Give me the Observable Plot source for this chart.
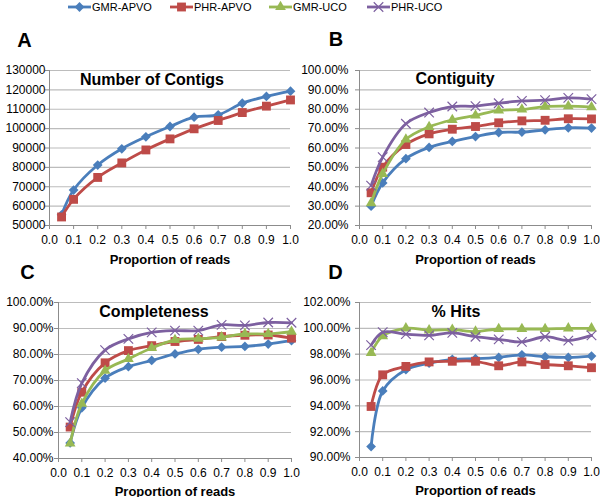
<!DOCTYPE html>
<html><head><meta charset="utf-8">
<script src="https://cdn.jsdelivr.net/npm/d3@7"></script>
<script src="https://cdn.jsdelivr.net/npm/@observablehq/plot@0.6"></script>
<style>
body{margin:0;background:#fff;}
#chart{position:relative;width:600px;height:497px;font-family:"Liberation Sans",Arial,sans-serif;color:#000;overflow:hidden;background:#fff}
.abs{position:absolute;white-space:nowrap;line-height:1}
.letter{font-size:20px;font-weight:bold;transform:translate(-50%,-50%)}
.title{font-size:16px;font-weight:bold;transform:translate(-50%,-50%)}
.legtext{font-size:11px;transform:translateY(-50%)}
.panel{position:absolute}
#chart svg g[aria-label="x-axis label"] text{font-weight:bold;font-size:13px}
</style></head>
<body><div id="chart"></div>
<script>
// ---- data ----
const props = [0.05, 0.1, 0.2, 0.3, 0.4, 0.5, 0.6, 0.7, 0.8, 0.9, 1.0];
const xTicks = [0, 0.1, 0.2, 0.3, 0.4, 0.5, 0.6, 0.7, 0.8, 0.9, 1.0];
const seriesNames = ["GMR-APVO", "PHR-APVO", "GMR-UCO", "PHR-UCO"];

const contigsGmrApvo = [55500, 68300, 81200, 89600, 95800, 101100, 105900, 107100, 113100, 116600, 119300];
const contigsPhrApvo = [54400, 63500, 74800, 82300, 89000, 94700, 99900, 104200, 108300, 111600, 114800];
const contigsTicks = [50000, 60000, 70000, 80000, 90000, 100000, 110000, 120000, 130000];

const contiguityGmrApvo = [30.0, 42.0, 54.5, 60.3, 63.4, 65.9, 68.0, 68.2, 69.4, 70.4, 70.3];
const contiguityPhrApvo = [36.9, 50.1, 61.8, 67.3, 69.7, 71.1, 73.0, 74.0, 74.3, 75.1, 75.0];
const contiguityGmrUco  = [31.5, 46.7, 64.4, 70.9, 74.5, 76.8, 79.4, 79.9, 81.4, 81.6, 81.1];
const contiguityPhrUco  = [40.6, 55.3, 72.5, 78.3, 81.4, 81.6, 83.1, 84.3, 84.7, 85.9, 85.2];
const contiguityTicks = [20, 30, 40, 50, 60, 70, 80, 90, 100];

const completeGmrApvo = [46.0, 59.5, 70.9, 75.3, 77.7, 80.2, 82.0, 82.8, 83.1, 84.0, 85.3];
const completePhrApvo = [52.1, 65.5, 76.8, 81.5, 83.4, 85.0, 85.8, 86.9, 87.4, 87.5, 86.3];
const completeGmrUco  = [45.8, 61.1, 73.8, 78.3, 82.5, 85.6, 86.1, 86.6, 87.9, 87.9, 88.8];
const completePhrUco  = [54.0, 69.0, 81.7, 86.0, 88.5, 89.2, 89.2, 91.4, 91.2, 92.3, 92.2];
const completeTicks = [40, 50, 60, 70, 80, 90, 100];

const hitsGmrApvo = [90.85, 95.15, 96.8, 97.3, 97.6, 97.65, 97.75, 97.95, 97.8, 97.75, 97.85];
const hitsPhrApvo = [93.95, 96.4, 97.05, 97.4, 97.45, 97.45, 97.1, 97.4, 97.2, 97.1, 96.95];
const hitsGmrUco  = [98.1, 99.4, 100.0, 99.85, 99.9, 99.75, 99.95, 99.95, 99.95, 100.0, 100.0];
const hitsPhrUco  = [98.7, 99.7, 99.55, 99.45, 99.65, 99.35, 99.15, 98.95, 99.35, 99.05, 99.45];
const hitsTicks = [90, 92, 94, 96, 98, 100, 102];

// ---- styles ----
const colors = ["#4a7ebb", "#be4b48", "#98b954", "#7d60a0"];
const styles = [
  {symbol: "diamond2", r: 4.4, fill: colors[0], stroke: "none", sw: 0},
  {symbol: "square", r: 5.0, fill: colors[1], stroke: "none", sw: 0},
  {symbol: "triangle", r: 4.0, fill: colors[2], stroke: "none", sw: 0},
  {symbol: "times", r: 4.4, fill: "none", stroke: colors[3], sw: 1.2}
];
const axisGray = "#8c8c8c";
const gridGray = "#bcbcbc";
const pct = d => d.toFixed(2) + "%";

const chart = document.getElementById("chart");

function panel(cfg) {
  const marks = [
    Plot.gridY({ticks: cfg.yTicks, stroke: gridGray, strokeOpacity: 1, strokeWidth: 1.2}),
    Plot.ruleY([cfg.yTicks[0]], {stroke: axisGray}),
    Plot.ruleX([xTicks[0]], {stroke: axisGray}),
    Plot.axisX({ticks: xTicks, tickFormat: d3.format(".1f"), tickSize: 4, tickPadding: 6,
      stroke: axisGray, fill: "#000", label: "Proportion of reads", labelAnchor: "center",
      labelArrow: "none", labelOffset: cfg.labelOffset}),
    Plot.axisY({ticks: cfg.yTicks, tickFormat: cfg.yFormat, tickSize: 4, tickPadding: cfg.yPad,
      stroke: axisGray, fill: "#000", label: null})
  ];
  cfg.series.forEach((vals, i) => {
    if (!vals) return;
    const data = props.map((p, j) => ({x: p, y: vals[j]}));
    const st = styles[i];
    marks.push(Plot.line(data, {x: "x", y: "y", stroke: colors[i], strokeWidth: 2.8, curve: "catmull-rom"}));
    marks.push(Plot.dot(data, {x: "x", y: "y", symbol: st.symbol, r: st.r, fill: st.fill, stroke: st.stroke, strokeWidth: st.sw}));
  });
  const svg = Plot.plot({
    width: cfg.w, height: cfg.h,
    marginLeft: cfg.ml, marginRight: cfg.mr, marginTop: cfg.mt, marginBottom: cfg.mb,
    x: {domain: [xTicks[0], xTicks[xTicks.length - 1]]},
    y: {domain: [cfg.yTicks[0], cfg.yTicks[cfg.yTicks.length - 1]]},
    style: {fontFamily: "Liberation Sans, Arial, sans-serif", fontSize: "12px", background: "transparent", overflow: "visible", color: "#000"},
    marks
  });
  svg.classList.add("panel");
  svg.style.left = cfg.left + "px";
  svg.style.top = cfg.top + "px";
  chart.appendChild(svg);
}

panel({left: 0, top: 30, w: 300, h: 240, ml: 49, mr: 10, mt: 40, mb: 45, labelOffset: 38,
  yTicks: contigsTicks, yFormat: d => String(d), yPad: 0,
  series: [contigsGmrApvo, contigsPhrApvo, null, null]});
panel({left: 300, top: 30, w: 300, h: 240, ml: 59, mr: 9, mt: 40, mb: 45, labelOffset: 38,
  yTicks: contiguityTicks, yFormat: pct, yPad: 7,
  series: [contiguityGmrApvo, contiguityPhrApvo, contiguityGmrUco, contiguityPhrUco]});
panel({left: 0, top: 262, w: 300, h: 235, ml: 58, mr: 9, mt: 40, mb: 39, labelOffset: 37,
  yTicks: completeTicks, yFormat: pct, yPad: 1,
  series: [completeGmrApvo, completePhrApvo, completeGmrUco, completePhrUco]});
panel({left: 300, top: 262, w: 300, h: 235, ml: 59, mr: 9, mt: 40, mb: 40, labelOffset: 37,
  yTicks: hitsTicks, yFormat: pct, yPad: 5,
  series: [hitsGmrApvo, hitsPhrApvo, hitsGmrUco, hitsPhrUco]});

// ---- text labels ----
function addText(cls, txt, x, y) {
  const d = document.createElement("div");
  d.className = "abs " + cls;
  d.textContent = txt;
  d.style.left = x + "px";
  d.style.top = y + "px";
  chart.appendChild(d);
}
const panelLetters = ["A", "B", "C", "D"];
const panelTitles = ["Number of Contigs", "Contiguity", "Completeness", "% Hits"];
[[24.5, 40], [336, 39], [27.5, 271.5], [335.5, 271.5]].forEach((p, i) => addText("letter", panelLetters[i], p[0], p[1]));
[[152, 80], [455, 79], [154, 312], [456, 312]].forEach((p, i) => addText("title", panelTitles[i], p[0], p[1]));

// ---- legend ----
const legendX = [68, 170, 269, 367];
seriesNames.forEach((name, i) => {
  const ns = "http://www.w3.org/2000/svg";
  const s = document.createElementNS(ns, "svg");
  s.setAttribute("width", 24); s.setAttribute("height", 14);
  s.style.position = "absolute"; s.style.left = legendX[i] + "px"; s.style.top = "0px";
  const ln = document.createElementNS(ns, "line");
  ln.setAttribute("x1", 0); ln.setAttribute("x2", 23); ln.setAttribute("y1", 7); ln.setAttribute("y2", 7);
  ln.setAttribute("stroke", colors[i]); ln.setAttribute("stroke-width", 2.8);
  s.appendChild(ln);
  const st = styles[i];
  const symMap = {diamond2: d3.symbolDiamond2, square: d3.symbolSquare, triangle: d3.symbolTriangle, times: d3.symbolTimes};
  const p = document.createElementNS(ns, "path");
  p.setAttribute("d", d3.symbol(symMap[st.symbol], Math.PI * st.r * st.r)());
  p.setAttribute("transform", "translate(11.5,7)");
  p.setAttribute("fill", st.fill); p.setAttribute("stroke", st.stroke); p.setAttribute("stroke-width", st.sw);
  s.appendChild(p);
  chart.appendChild(s);
  addText("legtext", name, legendX[i] + 24, 7);
});
</script></body></html>
